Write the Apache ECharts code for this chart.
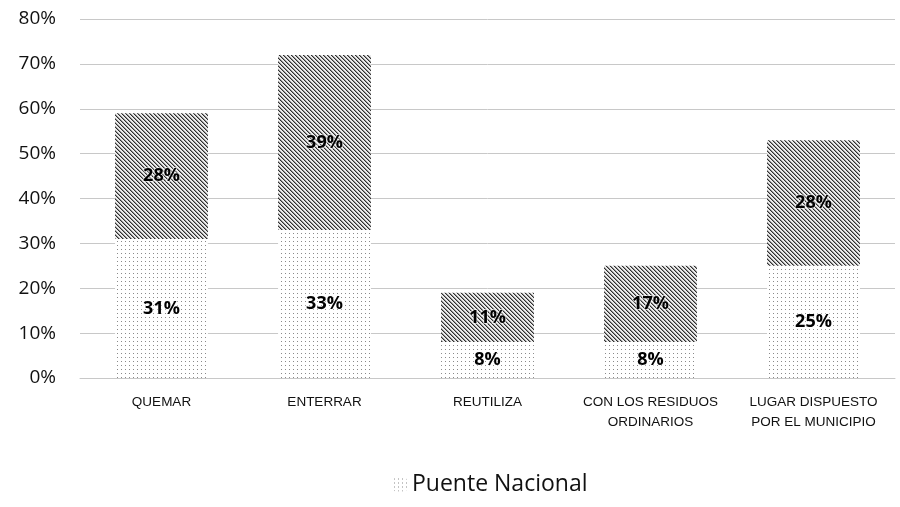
<!DOCTYPE html>
<html>
<head>
<meta charset="utf-8">
<script src="https://cdn.jsdelivr.net/npm/echarts@6/dist/echarts.min.js"></script>
<style>
    html, body { margin: 0; padding: 0; background: #fff; }
    #chart { width: 900px; height: 507px; }
</style>
</head>
<body>
<div id="chart"></div>
<script>
    // datos del grafico
    var categorias = ['QUEMAR', 'ENTERRAR', 'REUTILIZA', 'CON LOS RESIDUOS\nORDINARIOS', 'LUGAR DISPUESTO\nPOR EL MUNICIPIO'];
    var puenteNacional = [31, 33, 8, 8, 25];
    var otros = [28, 39, 11, 17, 28];
    var ejeY = { min: 0, max: 80, interval: 10 };

    // patron de puntos
    function patronPuntos() {
        var c = document.createElement('canvas');
        c.width = 4; c.height = 4;
        var ctx = c.getContext('2d');
        ctx.fillStyle = '#ffffff';
        ctx.fillRect(0, 0, 4, 4);
        ctx.fillStyle = '#8a8a8a';
        ctx.fillRect(1, 1, 1, 1);
        return c;
    }

    // patron rayado diagonal
    function patronRayas() {
        var c = document.createElement('canvas');
        c.width = 4; c.height = 4;
        var ctx = c.getContext('2d');
        ctx.fillStyle = '#ececec';
        ctx.fillRect(0, 0, 4, 4);
        for (var i = 0; i < 4; i++) {
            ctx.fillStyle = '#2e2e2e';
            ctx.fillRect(i, i, 1, 1);
            ctx.fillStyle = '#959595';
            ctx.fillRect((i + 1) % 4, i, 1, 1);
        }
        return c;
    }

    var myChart = echarts.init(document.getElementById('chart'));
    var etiqueta = {
        show: true,
        position: 'inside',
        formatter: '{c}%',
        color: '#000',
        fontWeight: 'bold',
        fontSize: 18,
        fontFamily: 'Open Sans',
        textBorderColor: 'rgba(255,255,255,0.55)',
        textBorderWidth: 2
    };

    myChart.setOption({
        animation: false,
        grid: { left: 80, right: 5, top: 19, bottom: 129 },
        legend: {
            data: ['Puente Nacional'],
            bottom: 6,
            left: 388,
            itemWidth: 14,
            itemHeight: 14,
            itemGap: 8,
            textStyle: { fontSize: 23, color: '#111', fontFamily: 'Open Sans' }
        },
        xAxis: {
            type: 'category',
            data: categorias,
            axisTick: { show: false },
            axisLine: { lineStyle: { color: '#c8c8c8' } },
            axisLabel: {
                interval: 0,
                margin: 14,
                fontSize: 13.5,
                lineHeight: 20,
                color: '#111',
                fontFamily: 'Liberation Sans'
            }
        },
        yAxis: {
            type: 'value',
            min: ejeY.min,
            max: ejeY.max,
            interval: ejeY.interval,
            axisLabel: {
                formatter: '{value}%',
                fontSize: 19,
                margin: 24,
                color: '#111',
                fontFamily: 'Open Sans'
            },
            splitLine: { lineStyle: { color: '#c8c8c8' } }
        },
        series: [
            {
                name: 'Puente Nacional',
                type: 'bar',
                stack: 'total',
                barWidth: '57%',
                data: puenteNacional,
                itemStyle: { color: { image: patronPuntos(), repeat: 'repeat' } },
                label: etiqueta
            },
            {
                name: 'Otros',
                type: 'bar',
                stack: 'total',
                barWidth: '57%',
                data: otros,
                itemStyle: { color: { image: patronRayas(), repeat: 'repeat' } },
                label: etiqueta
            }
        ]
    });
</script>
</body>
</html>
